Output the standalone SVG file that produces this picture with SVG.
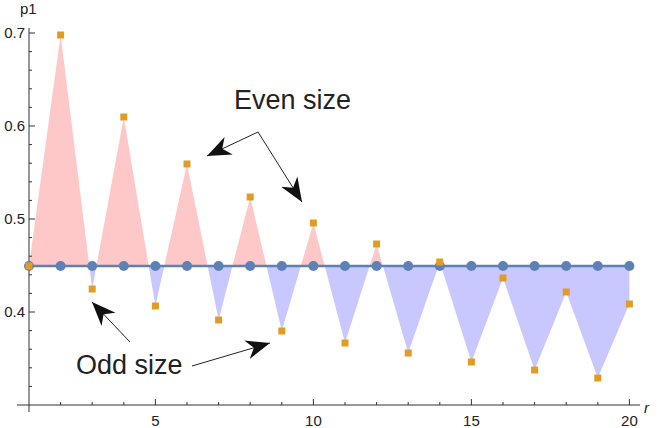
<svg xmlns="http://www.w3.org/2000/svg" width="664" height="428" viewBox="0 0 664 428">
<style>
.t{font-family:"Liberation Sans",Arial,sans-serif;font-size:15px;fill:#222}
.big{font-family:"Liberation Sans",Arial,sans-serif;font-size:27px;fill:#222}
.ax{stroke:#333;stroke-width:1;fill:none}
.ar{stroke:#222;stroke-width:1;fill:none}
.sq{fill:#e19c24}
.dot{fill:#5e81b5}
</style>
<defs>
<marker id="ahb" viewBox="0 0 10 10" refX="10" refY="5" markerWidth="24" markerHeight="24" markerUnits="userSpaceOnUse" orient="auto"><path d="M0,1 L10,5 L0,9 L3,5 z" fill="#111"/></marker>
<clipPath id="up"><rect x="0" y="0" width="664" height="266"/></clipPath>
<clipPath id="dn"><rect x="0" y="266" width="664" height="162"/></clipPath>
<polygon id="area" points="29,266 29,266 60.6,35 92.2,289 123.8,117 155.4,306 187,164 218.6,320 250.2,197 281.8,331 313.4,223 345,343 376.6,244 408.2,353 439.8,262 471.4,362 503,278 534.6,370 566.2,292 597.8,378 629.4,304 629.4,266"/>
</defs>
<g id="fills">
<use href="#area" fill="#ffc8c8" clip-path="url(#up)"/>
<use href="#area" fill="#c8c8ff" clip-path="url(#dn)"/>
</g>
<g id="axes">
<path class="ax" d="M17,405 H640 M29,28 V412"/>
<path class="ax" d="M60.6,405v-3M92.2,405v-3M123.8,405v-3M155.4,405v-6M187,405v-3M218.6,405v-3M250.2,405v-3M281.8,405v-3M313.4,405v-6M345,405v-3M376.6,405v-3M408.2,405v-3M439.8,405v-3M471.4,405v-6M503,405v-3M534.6,405v-3M566.2,405v-3M597.8,405v-3M629.4,405v-6"/>
<path class="ax" d="M29,33h6M29,51.6h3M29,70.2h3M29,88.8h3M29,107.4h3M29,126h6M29,144.6h3M29,163.2h3M29,181.8h3M29,200.4h3M29,219h6M29,237.6h3M29,256.2h3M29,274.8h3M29,293.4h3M29,312h6M29,330.6h3M29,349.2h3M29,367.8h3M29,386.4h3"/>
<g class="t" text-anchor="end"><text x="25" y="38">0.7</text><text x="25" y="131">0.6</text><text x="25" y="224">0.5</text><text x="25" y="317">0.4</text></g>
<g class="t" text-anchor="middle"><text x="155.4" y="426">5</text><text x="313.4" y="426">10</text><text x="471.4" y="426">15</text><text x="629.4" y="426">20</text></g>
<text class="t" x="20" y="14">p1</text>
<text class="t" x="644" y="413" font-style="italic">r</text>
</g>
<g id="baseline">
<line x1="29" y1="266" x2="629.4" y2="266" stroke="#5e81b5" stroke-width="2.5"/>
<g class="dot"><circle cx="29" cy="266" r="5"/><circle cx="60.6" cy="266" r="5"/><circle cx="92.2" cy="266" r="5"/><circle cx="123.8" cy="266" r="5"/><circle cx="155.4" cy="266" r="5"/><circle cx="187" cy="266" r="5"/><circle cx="218.6" cy="266" r="5"/><circle cx="250.2" cy="266" r="5"/><circle cx="281.8" cy="266" r="5"/><circle cx="313.4" cy="266" r="5"/><circle cx="345" cy="266" r="5"/><circle cx="376.6" cy="266" r="5"/><circle cx="408.2" cy="266" r="5"/><circle cx="439.8" cy="266" r="5"/><circle cx="471.4" cy="266" r="5"/><circle cx="503" cy="266" r="5"/><circle cx="534.6" cy="266" r="5"/><circle cx="566.2" cy="266" r="5"/><circle cx="597.8" cy="266" r="5"/><circle cx="629.4" cy="266" r="5"/></g>
</g>
<g id="points" class="sq">
<rect x="25.5" y="262.5" width="7" height="7"/><rect x="57.1" y="31.5" width="7" height="7"/><rect x="88.7" y="285.5" width="7" height="7"/><rect x="120.3" y="113.5" width="7" height="7"/><rect x="151.9" y="302.5" width="7" height="7"/><rect x="183.5" y="160.5" width="7" height="7"/><rect x="215.1" y="316.5" width="7" height="7"/><rect x="246.7" y="193.5" width="7" height="7"/><rect x="278.3" y="327.5" width="7" height="7"/><rect x="309.9" y="219.5" width="7" height="7"/><rect x="341.5" y="339.5" width="7" height="7"/><rect x="373.1" y="240.5" width="7" height="7"/><rect x="404.7" y="349.5" width="7" height="7"/><rect x="436.3" y="258.5" width="7" height="7"/><rect x="467.9" y="358.5" width="7" height="7"/><rect x="499.5" y="274.5" width="7" height="7"/><rect x="531.1" y="366.5" width="7" height="7"/><rect x="562.7" y="288.5" width="7" height="7"/><rect x="594.3" y="374.5" width="7" height="7"/><rect x="625.9" y="300.5" width="7" height="7"/>
</g>
<g id="annotations">
<text class="big" x="234" y="109">Even size</text>
<text class="big" x="76" y="374">Odd size</text>
<path class="ar" d="M258,132 L207,156" marker-end="url(#ahb)"/>
<path class="ar" d="M258,132 L302,202" marker-end="url(#ahb)"/>
<path class="ar" d="M130,342 L92,302" marker-end="url(#ahb)"/>
<path class="ar" d="M192,366 L270,343" marker-end="url(#ahb)"/>
</g>
</svg>
